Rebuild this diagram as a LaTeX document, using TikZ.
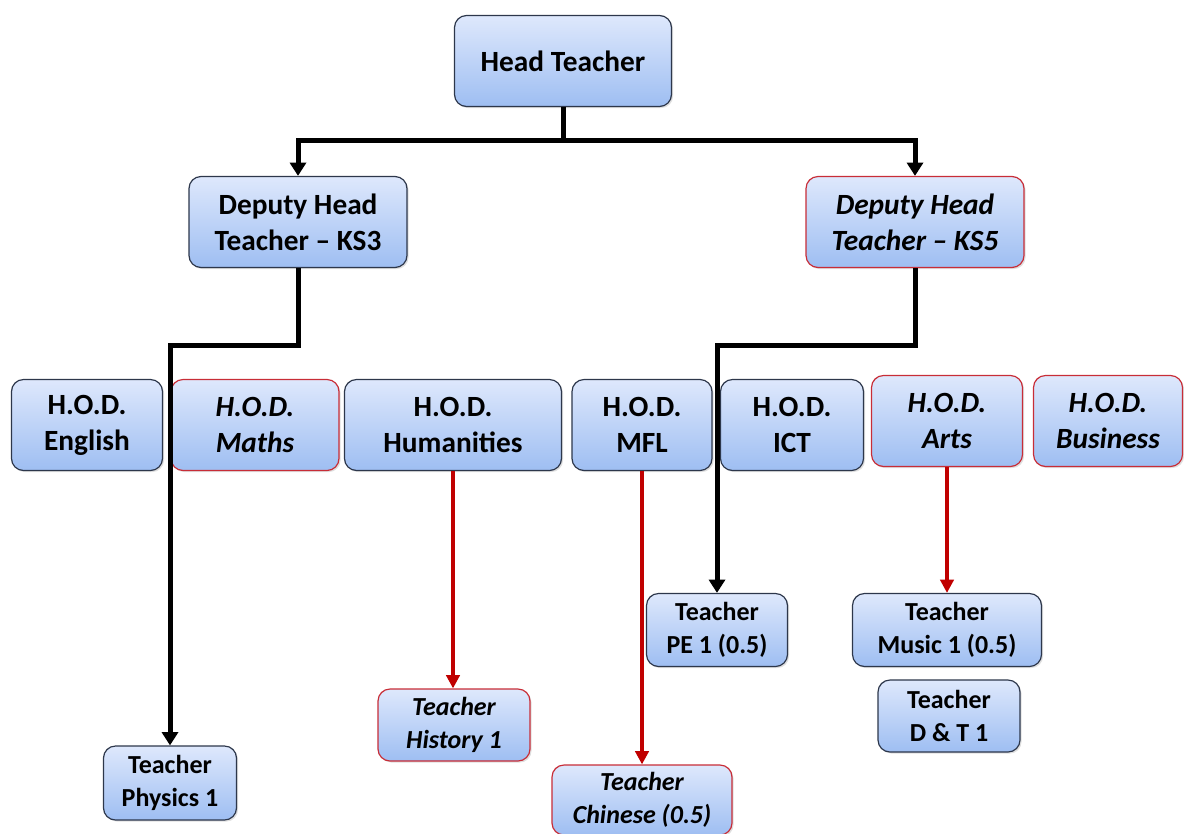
\documentclass[tikz,border=0pt]{standalone}
\usepackage{fontspec}
\setmainfont{Carlito}
\usepackage{xcolor}
\usepackage{tikz}
\usetikzlibrary{calc,arrows.meta,shadows}
\definecolor{boxtop}{RGB}{222, 232, 252}
\definecolor{boxbottom}{RGB}{158, 190, 242}
\definecolor{boxline}{RGB}{45, 55, 75}
\definecolor{redline}{RGB}{200, 45, 55}
\definecolor{redarrow}{RGB}{192, 0, 0}

\begin{document}
\begin{tikzpicture}[x=0.75pt, y=-0.75pt,
  box/.style={draw=boxline, line width=0.9pt, rounded corners=9pt, top color=boxtop, bottom color=boxbottom,
    inner sep=0pt, align=center, font=\fontsize{22}{27}\selectfont\bfseries,
    drop shadow={opacity=0.25, shadow xshift=1.2pt, shadow yshift=-1.2pt}},
  redbox/.style={box, draw=redline, font=\fontsize{22}{27}\selectfont\bfseries\itshape},
  small/.style={font=\fontsize{19.5}{24.75}\selectfont\bfseries},
  smallred/.style={font=\fontsize{19.5}{24.75}\selectfont\bfseries\itshape},
  link/.style={line width=3.75pt, black},
  redlink/.style={line width=3pt, redarrow, -{Triangle[length=10pt, width=10pt]}}]
\useasboundingbox (0,0) rectangle (1184,833);

% top
\node[box, minimum width=162.75pt, minimum height=68.25pt] (head) at (563,61) {Head Teacher};
\node[box, minimum width=163.5pt, minimum height=68.25pt] (dep3) at (298,222) {Deputy Head\\Teacher -- KS3};
\node[redbox, minimum width=163.5pt, minimum height=68.25pt] (dep5) at (915,222) {Deputy Head\\Teacher -- KS5};

% heads of department
\node[box, minimum width=113.25pt, minimum height=68.25pt] (eng) at (87,425) {H.O.D.\\English};
\node[redbox, minimum width=126pt, minimum height=68.25pt] (maths) at (255,425) {H.O.D.\\Maths};
\node[box, minimum width=162.75pt, minimum height=68.25pt] (hum) at (453,425) {H.O.D.\\Humanities};
\node[box, minimum width=105pt, minimum height=68.25pt] (mfl) at (642,425) {H.O.D.\\MFL};
\node[box, minimum width=107.25pt, minimum height=68.25pt] (ict) at (792,425) {H.O.D.\\ICT};
\node[redbox, minimum width=113.25pt, minimum height=68.25pt] (arts) at (947,421) {H.O.D.\\Arts};
\node[redbox, minimum width=111.75pt, minimum height=68.25pt] (bus) at (1108,421) {H.O.D.\\Business};

% teachers
\node[box, small, minimum width=99.75pt, minimum height=55.5pt] (phys) at (170,783) {Teacher\\Physics 1};
\node[redbox, smallred, minimum width=114pt, minimum height=54pt] (hist) at (454,725) {Teacher\\History 1};
\node[redbox, smallred, minimum width=135pt, minimum height=52.5pt] (chin) at (642,800) {Teacher\\Chinese (0.5)};
\node[box, small, minimum width=105.75pt, minimum height=54.75pt] (pe) at (717,630) {Teacher\\PE 1 (0.5)};
\node[box, small, minimum width=141.75pt, minimum height=54.75pt] (music) at (947,630) {Teacher\\Music 1 (0.5)};
\node[box, small, minimum width=106.5pt, minimum height=54pt] (dt) at (949,716) {Teacher\\D \& T 1};

% lines
\draw[link] (head.south) -- ++(0,33) coordinate (split);
\draw[link, -{Triangle[length=10pt, width=12pt]}] (split) -| (dep3.north);
\draw[link, -{Triangle[length=10pt, width=12pt]}] (split) -| (dep5.north);
\draw[link, -{Triangle[length=10pt, width=12pt]}] (dep3.south) -- ++(0,77) -| (phys.north);
\draw[link, -{Triangle[length=10pt, width=12pt]}] (dep5.south) -- ++(0,77) -| (pe.north);

\draw[redlink] (hum.south) -- (hum.south |- hist.north);
\draw[redlink] (mfl.south) -- (mfl.south |- chin.north);
\draw[redlink] (arts.south) -- (arts.south |- music.north);
\end{tikzpicture}
\end{document}
